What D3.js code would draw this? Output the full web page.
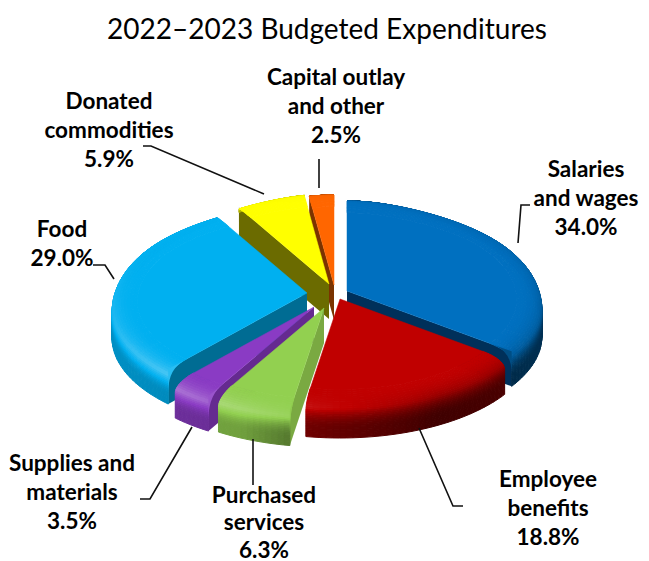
<!DOCTYPE html>
<html><head><meta charset="utf-8">
<style>html,body{margin:0;padding:0;background:#fff}svg{display:block}</style>
<script src="https://cdn.jsdelivr.net/npm/d3@7"></script></head>
<body><svg id="c" width="649" height="561"></svg>
<script>
// ---- data ----
const categories = ["Salaries and wages","Employee benefits","Purchased services","Supplies and materials","Food","Donated commodities","Capital outlay and other"];
const values = [34.0,18.8,6.3,3.5,29.0,5.9,2.5];
const labelLines = [["Salaries","and wages"],["Employee","benefits"],["Purchased","services"],["Supplies and","materials"],["Food"],["Donated","commodities"],["Capital outlay","and other"]];
// ---- styles ----
const topColors = ["#0070C0","#C00000","#92D050","#8A3BC4","#00B0F0","#FFFF00","#FF6600"];
const cutColors = ["#00305A","#600000","#7AA942","#652A90","#006C93","#6B6B00","#7A3300"];
// ---- layout ----
const apexX = [347,340,324,314,307,329,334];
const apexY = [291,299,308,307,293,284,285];
const labelX = [586,548,264,72,62,109,336];
const labelY = [168,478,494,462,228,100,76];
const labelLH = [29,29,27.5,29,29,29,29];
const leaders = [
 [[518,243],[521,205],[530,205]],[[419,428],[453,506],[463,506]],[[253,439],[253,485]],
 [[192,427],[150,499],[140,499]],[[114,279],[105,265],[93,265]],[[264,194],[151,146],[143,146]],[[319,159],[319,188]]];
const RX=195, RY_BACK=100, RY_FRONT=94, DY=10, H=35, BEVEL_Z=10, R_IN=0.87;

const svg=d3.select("#c");
const arcs=d3.pie().sort(null).startAngle(0).endAngle(2*Math.PI)(values);
const wallF=d3.scaleLinear().domain([0,90,150,190,205,260,300,360]).range([.5,.45,.33,.58,.77,.82,.8,.6]);
const peakF=d3.scaleLinear().domain([0,90,150,190,205,225,260,300,360]).range([.98,.85,.78,1.1,1.25,1.4,1.2,1.03,.98]);
function shade(base,f){
  const c=d3.rgb(base);
  if(f<=1) return d3.rgb(c.r*f,c.g*f,c.b*f).formatHex();
  return d3.interpolateRgb(base,"#ffffff")((f-1)*.75);
}
function edge(i,t,r,z){
  const s=Math.sin(t),c=Math.cos(t);
  const g=c>0?1-.2*Math.pow(c,6):1;
  const ry=c>0?RY_BACK:RY_FRONT;
  const zz=c>0?z*(1-c):z;
  return [apexX[i]+r*RX*s*g, apexY[i]+r*(DY-ry*c)+zz];
}
const line=d3.line();
const rings=26;
function profile(k){ // k in 0..1 : inner top -> bevel -> wall bottom
  if(k<.45){const q=k/.45;return {r:R_IN+(1-R_IN)*Math.sin(q*Math.PI/2),z:BEVEL_Z*q*q};}
  const q=(k-.45)/.55;return {r:1,z:BEVEL_Z+(H-BEVEL_Z)*q};
}
function factor(deg,k){
  const pk=peakF(deg),w=wallF(deg);
  if(k<.35){const q=k/.35;return 1+(pk-1)*q*q;}
  const q=Math.min(1,(k-.35)/.45);
  return pk+(w-pk)*(q*(2-q));
}
const order=[0,6,5,4,1,3,2];
order.forEach(i=>{
  const a=arcs[i], g=svg.append("g");
  const ax=apexX[i], ay=apexY[i];
  // cut faces
  [[a.startAngle,Math.sin(a.startAngle)<-1e-3],[a.endAngle,Math.sin(a.endAngle)>1e-3]].forEach(([t,vis])=>{
    if(!vis) return;
    const e=edge(i,t,1,0);
    g.append("path").attr("d",line([[ax,ay],e,[e[0],e[1]+H],[ax,ay+H]])+"Z").attr("fill",cutColors[i]);
  });
  // outer wall + bevel as lit strips, from bottom of the wall up
  const n=Math.max(3,Math.ceil((a.endAngle-a.startAngle)/(2*Math.PI/180)));
  const ts=d3.range(n+1).map(j=>a.startAngle+(a.endAngle-a.startAngle)*j/n);
  for(let rk=rings-1;rk>=0;rk--){
    const k0=rk/rings,k1=(rk+1)/rings,p0=profile(k0),p1=profile(k1);
    for(let j=0;j<n;j++){
      const deg=((ts[j]+ts[j+1])/2)*180/Math.PI;
      const col=shade(topColors[i],factor(deg,(k0+k1)/2));
      const q=[edge(i,ts[j],p0.r,p0.z),edge(i,ts[j+1],p0.r,p0.z),edge(i,ts[j+1],p1.r,p1.z),edge(i,ts[j],p1.r,p1.z)];
      g.append("path").attr("d",line(q)+"Z").attr("fill",col).attr("stroke",col).attr("stroke-width",1).attr("stroke-linejoin","round");
    }
  }
  // rounded corners over the cut faces
  [[a.startAngle,Math.sin(a.startAngle)<-1e-3,a.startAngle+.04],[a.endAngle,Math.sin(a.endAngle)>1e-3,a.endAngle-.04]].forEach(([t,vis,tc])=>{
    if(!vis||i===6||i===5) return;
    const e=edge(i,t,1,0), len=Math.hypot(e[0]-ax,e[1]-ay), L=Math.min(21,len*.3), Hh=Math.min(22,H*.65);
    const ux=(ax-e[0])/len, uy=(ay-e[1])/len;
    const p=d3.path(); p.moveTo(e[0]+ux*L,e[1]+uy*L);
    p.quadraticCurveTo(e[0],e[1]+uy*L*.1,e[0],e[1]+Hh); p.lineTo(e[0],e[1]); p.closePath();
    const deg=tc*180/Math.PI;
    g.append("path").attr("d",p.toString()).attr("fill",shade(topColors[i],factor(deg,.42)));
  });
  // flat top
  const tp=[[ax,ay]].concat(ts.map(t=>edge(i,t,R_IN,0)));
  g.append("path").attr("d",line(tp)+"Z").attr("fill",topColors[i]).attr("stroke",topColors[i]).attr("stroke-width",.5);
});
// leaders
leaders.forEach(p=>svg.append("path").attr("d",line(p)).attr("fill","none").attr("stroke","#111").attr("stroke-width",1.6));
// title
svg.append("text").attr("x",327).attr("y",28).attr("text-anchor","middle").attr("dominant-baseline","central")
  .attr("font-family","Lato").attr("font-size",28).attr("fill","#000").text("2022\u20132023 Budgeted Expenditures");
// labels
categories.forEach((c,i)=>{
  const lines=labelLines[i].concat([values[i].toFixed(1)+"%"]);
  const t=svg.append("text").attr("text-anchor","middle").attr("font-family","Lato").attr("font-weight",700).attr("font-size",22.5).attr("fill","#000");
  lines.forEach((s,j)=>t.append("tspan").attr("x",labelX[i]).attr("y",labelY[i]+j*labelLH[i]).attr("dominant-baseline","central").text(s));
});
</script></body></html>
